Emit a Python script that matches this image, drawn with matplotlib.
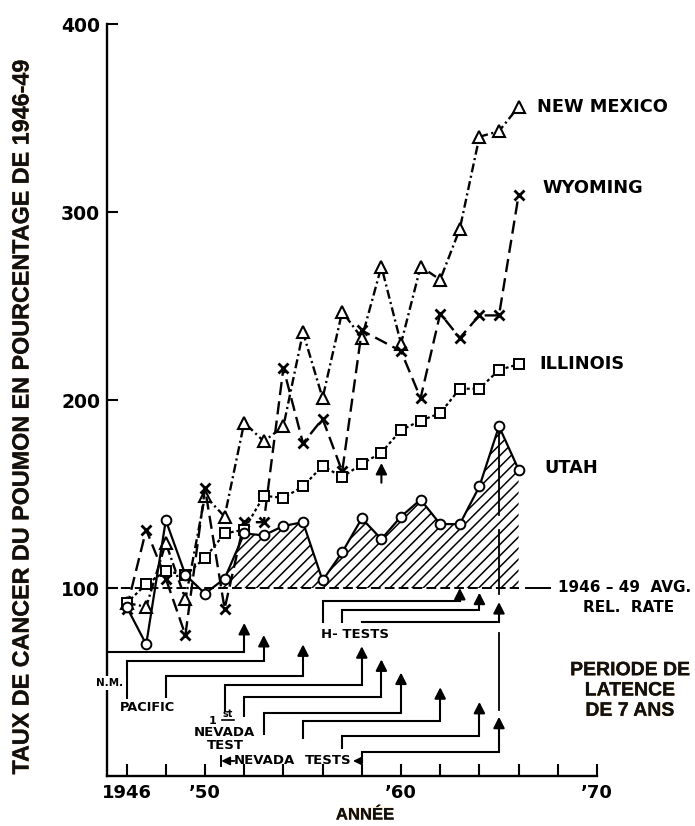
import matplotlib
matplotlib.use("Agg")
import matplotlib.pyplot as plt
import matplotlib.patheffects as pe
import numpy as np

# lung cancer rate, percent of the 1946-49 average
years = list(range(1946, 1967))
new_mexico = [92, 90, 124, 94, 149, 138, 188, 178, 186, 236, 201, 247,
              233, 271, 230, 271, 264, 291, 340, 343, 356]
wyoming_years = list(range(1946, 1959)) + list(range(1960, 1967))
wyoming = [89, 131, 105, 75, 153, 89, 135, 135, 217, 177, 190, 162,
           237, 226, 201, 246, 233, 245, 245, 309]
illinois = [92, 102, 109, 107, 116, 129, 131, 149, 148, 154, 165, 159,
            166, 172, 184, 189, 193, 206, 206, 216, 219]
utah = [90, 70, 136, 107, 97, 105, 129, 128, 133, 135, 104, 119,
        137, 126, 138, 147, 134, 134, 154, 186, 163]

baseline = 100
latency = 7
nm_test = 1945
fallout_tests = [1946, 1948, 1951, 1952, 1953, 1955, 1957, 1958]
h_tests = [1956, 1957, 1958]

plt.rcParams['font.family'] = 'DejaVu Sans'
plt.rcParams['font.weight'] = 'bold'
plt.rcParams['lines.scale_dashes'] = False
plt.rcParams['hatch.linewidth'] = 1.1

fig = plt.figure(figsize=(6.95, 8.26), dpi=100)
ax = fig.add_axes([107 / 695, 50 / 826, 490 / 695, 752 / 826])
ax.set_xlim(1945, 1970)
ax.set_ylim(0, 400)
for s in ['top', 'right']:
    ax.spines[s].set_visible(False)
for s in ['left', 'bottom']:
    ax.spines[s].set_linewidth(1.7)

xt = list(range(1946, 1971, 2))
xl = {1946: '1946', 1950: '\u201950', 1960: '\u201960', 1970: '\u201970'}
ax.set_xticks(xt)
ax.set_xticklabels([xl.get(t, '') for t in xt])
ax.set_yticks([100, 200, 300, 400])
ax.tick_params(axis='x', direction='in', length=9, width=1.5, pad=6, labelsize=13)
ax.tick_params(axis='y', direction='in', length=8, width=1.5, pad=5, labelsize=13.5)

# series
ax.plot(years, new_mexico, color='k', lw=1.7, ls=(0, (6.5, 2.5, 1.5, 2.5)),
        marker='^', ms=9, mfc='white', mec='k', mew=1.5, zorder=4)
ax.plot(wyoming_years, wyoming, color='k', lw=1.7, ls=(0, (9.5, 4.5)),
        marker='x', ms=7.5, mec='k', mew=2, zorder=4)
ax.plot(years, illinois, color='k', lw=1.6, ls=(0, (2.2, 2)),
        marker='s', ms=6.8, mfc='white', mec='k', mew=1.4, zorder=4)
ax.plot(years, utah, color='k', lw=1.6, ls='-',
        marker='o', ms=7, mfc='white', mec='k', mew=1.4, zorder=5)

# hatched excess over the 1946-49 average
ux = np.array(years[4:], dtype=float)
uy = np.array(utah[4:], dtype=float)
ax.fill_between(ux, baseline, uy, where=uy >= baseline, interpolate=True,
                facecolor='none', edgecolor='k', hatch='///', lw=0, zorder=2)
ax.plot([1945, 1966], [baseline, baseline], color='k', lw=1.4,
        ls=(0, (7, 3)), zorder=3)
ax.plot([1966.4, 1967.6], [baseline, baseline], color='k', lw=1.4)

series_labels = [('NEW MEXICO', 1966.92, 356), ('WYOMING', 1967.22, 313),
                 ('ILLINOIS', 1967.07, 219), ('UTAH', 1967.33, 164)]
for txt, x, y in series_labels:
    ax.text(x, y, txt, fontsize=12.8, va='center', ha='left')
ax.text(1968.0, 100.4, '1946 \u2013 49  AVG.', fontsize=11, va='center', ha='left',
        clip_on=False)
ax.text(1971.6, 89.4, 'REL.  RATE', fontsize=11, va='center', ha='center',
        clip_on=False)


def arrow(x, y0, tip):
    ax.annotate('', xy=(x, tip), xytext=(x, y0),
                arrowprops=dict(arrowstyle='-|>,head_length=0.55,head_width=0.28',
                                color='k', lw=1.5, mutation_scale=12,
                                shrinkA=0, shrinkB=0))


def leader(x0, x1, y0, yrun, tip):
    ax.plot([x0, x0, x1, x1], [y0, yrun, yrun, tip - 4], color='k', lw=1.5,
            solid_joinstyle='miter', solid_capstyle='butt')
    arrow(x1, tip - 5, tip)


# N.M. (Trinity) leader runs from the axis
leader(nm_test, nm_test + latency, 66, 66, 81.4)
ax.text(1945.15, 49.5, 'N.M.', fontsize=7.5, ha='center', va='center',
        bbox=dict(facecolor='white', edgecolor='none', pad=1.5), zorder=6,
        clip_on=False)

# Pacific and Nevada tests, 7-year latency
starts = [41, 41.5, 34, 31.5, 22, 19.5, 14.5, 7]
runs = [61, 53, 48.5, 42, 33.5, 29.5, 21.3, 12.8]
tips = [75, 70, 69, 62, 55, 47.2, 39.4, 31.5]
for t, s0, r, tp in zip(fallout_tests, starts, runs, tips):
    leader(t, t + latency, s0, r, tp)

# H-tests
h_runs = [93.2, 88.3, 81.8]
h_tips = [100, 97.5, 92.5]
for t, r, tp in zip(h_tests, h_runs, h_tips):
    leader(t, t + latency, 81.4, r, tp)
ax.text(1957.63, 75, 'H- TESTS', fontsize=9.5, ha='center', va='center')

# vertical marker at 1965
for a, b in [(186, 139), (131, 97), (76, 35)]:
    ax.plot([1965, 1965], [a, b], color='k', lw=1.3)
arrow(1959, 156, 166.5)

ax.text(1947.05, 36.2, 'PACIFIC', fontsize=9.3, ha='center', va='center')
ax.text(1950.39, 29.5, '1', fontsize=8, ha='center', va='center')
ax.text(1951.15, 33.2, 'st', fontsize=7, ha='center', va='center')
ax.plot([1950.85, 1951.5], [29.6, 29.6], color='k', lw=1.2)
ax.text(1951.0, 22.9, 'NEVADA', fontsize=9.5, ha='center', va='center')
ax.text(1951.05, 16, 'TEST', fontsize=9.5, ha='center', va='center')

# Nevada tests span
ax.plot([1950.83, 1950.83], [5.5, 10.5], color='k', lw=1.4)
for tip, tail in [(1950.83, 1951.5), (1957.55, 1958.0)]:
    ax.annotate('', xy=(tip, 8), xytext=(tail, 8),
                arrowprops=dict(arrowstyle='-|>,head_length=0.5,head_width=0.25',
                                color='k', lw=1.3, mutation_scale=10,
                                shrinkA=0, shrinkB=0))
ax.text(1953.04, 8, 'NEVADA', fontsize=9.5, ha='center', va='center')
ax.text(1956.26, 8, 'TESTS', fontsize=9.5, ha='center', va='center')

# French labels
halo = [pe.withStroke(linewidth=0.7, foreground='#e39a3c', alpha=0.4), pe.Normal()]
fig.text(22 / 695, 1 - 416 / 826,
         'TAUX DE CANCER DU POUMON EN POURCENTAGE DE 1946-49',
         rotation=90, ha='center', va='center', fontsize=16.8,
         family='Liberation Sans', color='#111111', path_effects=halo)
fig.text(365 / 695, 1 - 815 / 826, 'ANNÉE', ha='center', va='center',
         fontsize=12, family='Liberation Sans', color='#111111', path_effects=halo)
fig.text(630 / 695, 1 - 691 / 826, 'PERIODE DE\nLATENCE\nDE 7 ANS',
         ha='center', va='center', multialignment='center', linespacing=1.25,
         fontsize=14, family='Liberation Sans', color='#111111', path_effects=halo)

fig.savefig('out.png', dpi=100)
